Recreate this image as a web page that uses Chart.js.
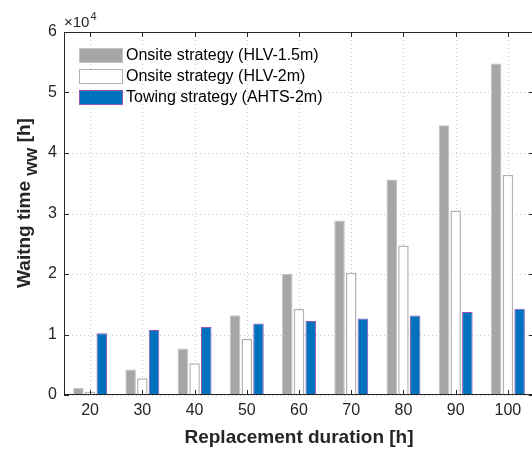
<!DOCTYPE html>
<html>
<head>
<meta charset="utf-8">
<script src="https://cdn.jsdelivr.net/npm/chart.js@4/dist/chart.umd.min.js"></script>
<style>
  html, body { margin: 0; padding: 0; overflow: hidden; background: #fff; }
  #wrap { width: 538px; height: 451px; }
</style>
</head>
<body>
<div id="wrap"><canvas id="waitChart" width="538" height="451"></canvas></div>
<script>
// Replacement duration categories [h]
const durations = ["20", "30", "40", "50", "60", "70", "80", "90", "100"];

// Waiting time values [h]
const onsite15 = [1200, 4200, 7670, 13170, 20000, 28850, 35600, 44600, 54800];
const onsite2 = [530, 2770, 5250, 9270, 14200, 20200, 24700, 30500, 36400];
const towing = [10200, 10760, 11250, 11800, 12240, 12660, 13160, 13700, 14240];

const yTicks = [0, 1, 2, 3, 4, 5, 6];
const axisColor = "#262626";
const font = "'Liberation Sans', Arial, Helvetica, sans-serif";

// dotted grid behind the bars
const dottedGrid = {
    id: "dottedGrid",
    beforeDatasetsDraw(chart) {
        const ctx = chart.ctx;
        const a = chart.chartArea;
        const x = chart.scales.x, y = chart.scales.y;
        ctx.save();
        ctx.strokeStyle = "rgba(38,38,38,0.25)";
        ctx.lineWidth = 1;
        ctx.setLineDash([1, 3]);
        ctx.beginPath();
        yTicks.forEach(v => {
            const py = Math.round(y.getPixelForValue(v * 1e4)) + 0.5;
            ctx.moveTo(a.left, py); ctx.lineTo(a.right, py);
        });
        durations.forEach((d, i) => {
            const px = Math.round(x.getPixelForValue(i)) + 0.5;
            ctx.moveTo(px, a.top); ctx.lineTo(px, a.bottom);
        });
        ctx.stroke();
        ctx.restore();
    }
};

// frame, inside ticks, legend, y title and exponent
const matlabAxes = {
    id: "matlabAxes",
    afterDatasetsDraw(chart) {
        const ctx = chart.ctx;
        const a = chart.chartArea;
        const x = chart.scales.x, y = chart.scales.y;
        ctx.save();
        ctx.setLineDash([]);
        ctx.strokeStyle = axisColor;
        ctx.lineWidth = 1;
        ctx.beginPath();
        ctx.moveTo(a.left, a.top + 0.5);
        ctx.lineTo(a.right, a.top + 0.5);
        ctx.moveTo(a.right - 0.5, a.top);
        ctx.lineTo(a.right - 0.5, a.bottom);
        ctx.moveTo(a.left + 0.5, a.top);
        ctx.lineTo(a.left + 0.5, a.bottom);
        ctx.moveTo(a.left, a.bottom - 0.5);
        ctx.lineTo(a.right, a.bottom - 0.5);
        const tl = 5;
        yTicks.forEach(v => {
            const py = Math.round(y.getPixelForValue(v * 1e4)) + 0.5;
            ctx.moveTo(a.left, py); ctx.lineTo(a.left + tl, py);
            ctx.moveTo(a.right, py); ctx.lineTo(a.right - tl, py);
        });
        durations.forEach((d, i) => {
            const px = Math.round(x.getPixelForValue(i)) + 0.5;
            ctx.moveTo(px, a.bottom); ctx.lineTo(px, a.bottom - tl);
            ctx.moveTo(px, a.top); ctx.lineTo(px, a.top + tl);
        });
        ctx.stroke();

        // legend (no box, inside top-left)
        const rows = [55, 76, 97];
        chart.data.datasets.forEach((ds, i) => {
            const cy = rows[i];
            ctx.fillStyle = ds.backgroundColor;
            ctx.fillRect(79, cy - 7, 44, 15);
            ctx.strokeStyle = ds.borderColor;
            ctx.lineWidth = 1;
            ctx.strokeRect(79.5, cy - 6.5, 43, 14);
            ctx.fillStyle = "#000";
            ctx.font = "16px " + font;
            ctx.textBaseline = "middle";
            ctx.textAlign = "left";
            ctx.fillText(ds.label, 126, cy + 1);
        });

        // exponent label
        ctx.fillStyle = axisColor;
        ctx.textBaseline = "alphabetic";
        ctx.font = "15px " + font;
        ctx.fillText("\u00d710", 64, 27);
        const w = ctx.measureText("\u00d710").width;
        ctx.font = "11px " + font;
        ctx.fillText("4", 64 + w + 1, 20);

        // y title with subscript
        ctx.translate(30, 203);
        ctx.rotate(-Math.PI / 2);
        ctx.fillStyle = axisColor;
        const big = "bold 19px " + font, sub = "bold 18px " + font;
        ctx.font = big;
        const w1 = ctx.measureText("Waitng time ").width;
        const w3 = ctx.measureText(" [h]").width;
        ctx.font = sub;
        const w2 = ctx.measureText("ww").width;
        let sx = -(w1 + w2 + w3) / 2;
        ctx.font = big;
        ctx.fillText("Waitng time ", sx, 0);
        ctx.font = sub;
        ctx.fillText("ww", sx + w1, 7);
        ctx.font = big;
        ctx.fillText(" [h]", sx + w1 + w2, 0);
        ctx.restore();
    }
};

new Chart(document.getElementById("waitChart"), {
    type: "bar",
    data: {
        labels: durations,
        datasets: [{
            label: "Onsite strategy (HLV-1.5m)",
            data: onsite15,
            backgroundColor: "#a6a6a6",
            borderColor: "#c4c4c4",
            borderWidth: 1
        }, {
            label: "Onsite strategy (HLV-2m)",
            data: onsite2,
            backgroundColor: "#ffffff",
            borderColor: "#b3b3b3",
            borderWidth: 1.5
        }, {
            label: "Towing strategy (AHTS-2m)",
            data: towing,
            backgroundColor: "#0072bd",
            borderColor: "#9655b0",
            borderWidth: 1
        }]
    },
    options: {
        responsive: false,
        animation: false,
        categoryPercentage: 0.672,
        barPercentage: 0.9,
        layout: { padding: { top: 32, right: 4, left: 0, bottom: 0 } },
        plugins: {
            legend: { display: false },
            tooltip: { enabled: false }
        },
        scales: {
            x: {
                offset: true,
                grid: { display: false, drawTicks: false },
                border: { display: false },
                ticks: {
                    color: axisColor,
                    padding: 6,
                    maxRotation: 0,
                    font: { size: 16, family: font }
                },
                title: {
                    display: true,
                    text: "Replacement duration [h]",
                    color: axisColor,
                    font: { size: 19, weight: "bold", family: font },
                    padding: { top: 0, bottom: 2 }
                },
                afterFit(s) { s.height = 56; }
            },
            y: {
                min: 0,
                max: 60000,
                grid: { display: false, drawTicks: false },
                border: { display: false },
                ticks: {
                    stepSize: 10000,
                    color: axisColor,
                    padding: 7,
                    font: { size: 16, family: font },
                    callback: v => String(v / 1e4)
                },
                afterFit(s) { s.width = 64; }
            }
        }
    },
    plugins: [dottedGrid, matlabAxes]
});
</script>
</body>
</html>
